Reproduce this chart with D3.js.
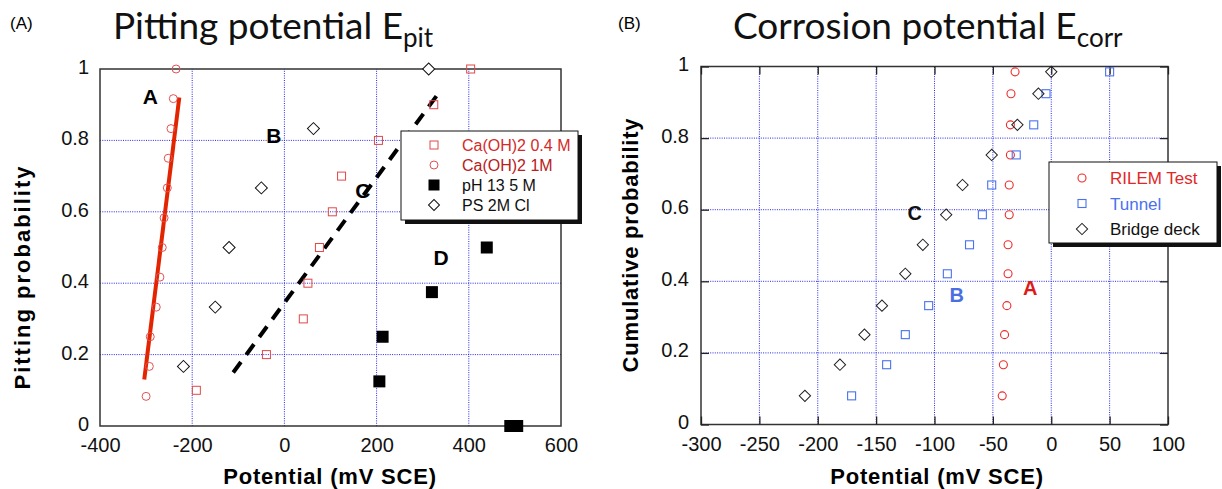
<!DOCTYPE html>
<html>
<head>
<meta charset="utf-8">
<script src="https://cdn.jsdelivr.net/npm/d3@7"></script>
<style>
  body { margin: 0; background: #fff; }
  svg text { font-family: "Liberation Sans", Arial, sans-serif; }
  .title { font-family: Lato, "Open Sans", sans-serif; }
  .grid { stroke: #2626ea; stroke-width: 1; stroke-dasharray: 1,1.3; }
  .frame { fill: none; stroke: #333; stroke-width: 1.5; }
  .axisLabel { font-weight: bold; }
</style>
</head>
<body>
<div id="chart"></div>
<script>
// ---- panel A: pitting potential (mV SCE) vs probability
var ca04E = [-191, -39, 41, 51, 76, 104, 124, 204, 324, 404];
var ca04P = [0.1, 0.2, 0.3, 0.4, 0.5, 0.6, 0.7, 0.8, 0.9, 1.0];
var ca1E = [-300, -293, -291, -278, -270, -265, -261, -254, -252, -246, -241, -235];
var ca1P = [0.083, 0.167, 0.25, 0.333, 0.417, 0.5, 0.583, 0.667, 0.75, 0.833, 0.917, 1.0];
var ph13E = [490, 505, 206, 213, 320, 439];
var ph13P = [0, 0, 0.125, 0.25, 0.375, 0.5];
var psE = [-219, -150, -120, -50, 63, 313];
var psP = [0.167, 0.333, 0.5, 0.667, 0.833, 1.0];
var fitA = [[-304, 0.13], [-228, 0.92]];
var fitC = [[-111, 0.15], [341, 0.944]];
var labelsA = [["A", -291, 0.924], ["B", -23, 0.815], ["C", 170, 0.661], ["D", 340, 0.473]];
var xTicksA = [-400, -200, 0, 200, 400, 600];
var gridXA = [-200, 0, 200, 400];

// ---- panel B: corrosion potential (mV SCE) vs cumulative probability
var cumP = [0.08, 0.167, 0.251, 0.332, 0.421, 0.502, 0.586, 0.669, 0.753, 0.837, 0.924, 0.985];
var rilemE = [-42, -41, -40, -38, -37, -37, -36, -36, -35, -35, -34.5, -31];
var tunnelE = [-171, -141, -125, -105, -89, -70, -59, -51, -30, -15, -4.5, 50];
var bridgeE = [-211, -181, -160, -145, -125, -110, -90, -76, -51, -29, -11, 0];
var labelsB = [["C", -117, 0.591, "#111"], ["B", -81, 0.362, "#4a6fe3"], ["A", -18, 0.381, "#dd1a1a"]];
var xTicksB = [-300, -250, -200, -150, -100, -50, 0, 50, 100];
var gridXB = [-250, -200, -150, -100, -50, 0, 50];

var yTicks = [0, 0.2, 0.4, 0.6, 0.8, 1];
var gridY = [0.2, 0.4, 0.6, 0.8];

var width = 1222, height = 489;

var svg = d3.select("#chart")
  .append("svg")
  .attr("width", width)
  .attr("height", height);

var diamond = d3.symbol().type(d3.symbolSquare);
var plain = function(d) { return String(d); };  // hyphen minus, like the original

function pairs(xs, ys) {
  return xs.map(function(x, i) { return [x, ys[i]]; });
}

function styleAxis(g, size) {
  g.attr("font-size", size).attr("font-family", null);
  g.select(".domain").remove();
  g.selectAll("text").attr("fill", "#111");
}

// =================== panel A ===================
var xA = d3.scaleLinear().domain([-400, 600]).range([100, 561]);
var yA = d3.scaleLinear().domain([0, 1]).range([426, 69]);

var gA = svg.append("g");

gA.selectAll(".gx").data(gridXA).enter().append("line")
  .attr("class", "grid")
  .attr("x1", function(d) { return xA(d); })
  .attr("x2", function(d) { return xA(d); })
  .attr("y1", yA(0)).attr("y2", yA(1));

gA.selectAll(".gy").data(gridY).enter().append("line")
  .attr("class", "grid")
  .attr("y1", function(d) { return yA(d); })
  .attr("y2", function(d) { return yA(d); })
  .attr("x1", xA(-400)).attr("x2", xA(600));

gA.append("rect")
  .attr("class", "frame")
  .attr("x", xA(-400)).attr("y", yA(1))
  .attr("width", xA(600) - xA(-400))
  .attr("height", yA(0) - yA(1));

gA.append("g")
  .attr("transform", `translate(0,${yA(0)})`)
  .call(d3.axisBottom(xA).tickValues(xTicksA).tickSize(0).tickPadding(12).tickFormat(plain))
  .call(styleAxis, 20);

gA.append("g")
  .attr("transform", `translate(${xA(-400)},0)`)
  .call(d3.axisLeft(yA).tickValues(yTicks).tickSize(0).tickPadding(11).tickFormat(plain))
  .call(styleAxis, 20)
  .selectAll("text").attr("dy", "0.22em");

var line = d3.line()
  .x(function(d) { return xA(d[0]); })
  .y(function(d) { return yA(d[1]); });

gA.append("path")
  .datum(fitA)
  .attr("d", line)
  .attr("fill", "none")
  .attr("stroke", "#e32400")
  .attr("stroke-width", 4);

gA.append("path")
  .datum(fitC)
  .attr("d", line)
  .attr("fill", "none")
  .attr("stroke", "#000")
  .attr("stroke-width", 4)
  .attr("stroke-dasharray", "13,9");

gA.selectAll(".ca1").data(pairs(ca1E, ca1P)).enter().append("circle")
  .attr("cx", function(d) { return xA(d[0]); })
  .attr("cy", function(d) { return yA(d[1]); })
  .attr("r", 4)
  .attr("fill", "none")
  .attr("stroke", "#e25252")
  .attr("stroke-width", 1);

gA.selectAll(".ca04").data(pairs(ca04E, ca04P)).enter().append("rect")
  .attr("x", function(d) { return xA(d[0]) - 4; })
  .attr("y", function(d) { return yA(d[1]) - 4; })
  .attr("width", 8).attr("height", 8)
  .attr("fill", "none")
  .attr("stroke", "#e24848")
  .attr("stroke-width", 1);

gA.selectAll(".ph13").data(pairs(ph13E, ph13P)).enter().append("rect")
  .attr("x", function(d) { return xA(d[0]) - 6; })
  .attr("y", function(d) { return yA(d[1]) - 6; })
  .attr("width", 12).attr("height", 12)
  .attr("fill", "#000");

gA.selectAll(".ps").data(pairs(psE, psP)).enter().append("path")
  .attr("d", diamond.size(72))
  .attr("transform", function(d) { return `translate(${xA(d[0])},${yA(d[1])}) rotate(45)`; })
  .attr("fill", "#fff")
  .attr("stroke", "#111")
  .attr("stroke-width", 1);

gA.selectAll(".lab").data(labelsA).enter().append("text")
  .attr("x", function(d) { return xA(d[1]); })
  .attr("y", function(d) { return yA(d[2]); })
  .attr("dy", "0.36em")
  .attr("text-anchor", "middle")
  .attr("font-size", 21)
  .attr("font-weight", "bold")
  .text(function(d) { return d[0]; });

// legend A
var legA = gA.append("g").attr("transform", "translate(401,131)");
legA.append("rect").attr("x", 4).attr("y", 4).attr("width", 177).attr("height", 89).attr("fill", "#111");
legA.append("rect").attr("width", 177).attr("height", 89).attr("fill", "#fff").attr("stroke", "#111").attr("stroke-width", 1);
var legItemsA = ["Ca(OH)2 0.4 M", "Ca(OH)2 1M", "pH 13 5 M", "PS 2M Cl"];
var legColA = ["#d42a2a", "#b82020", "#111", "#111"];
legItemsA.forEach(function(name, i) {
  var y = 14 + i * 20;
  var s = legA.append("g").attr("transform", `translate(33,${y})`);
  if (i == 0) s.append("rect").attr("x", -4).attr("y", -4).attr("width", 8).attr("height", 8).attr("fill", "none").attr("stroke", "#e24848");
  if (i == 1) s.append("circle").attr("r", 4).attr("fill", "none").attr("stroke", "#e25252");
  if (i == 2) s.append("rect").attr("x", -5.5).attr("y", -5.5).attr("width", 11).attr("height", 11).attr("fill", "#000");
  if (i == 3) s.append("path").attr("d", diamond.size(60)).attr("transform", "rotate(45)").attr("fill", "none").attr("stroke", "#111");
  legA.append("text")
    .attr("x", 61).attr("y", y).attr("dy", "0.36em")
    .attr("font-size", 16)
    .attr("fill", legColA[i])
    .text(name);
});

gA.append("text").attr("x", 10).attr("y", 29).attr("font-size", 17).text("(A)");

var tA = gA.append("text").attr("class", "title").attr("x", 113).attr("y", 39).attr("font-size", 37).attr("fill", "#111");
tA.append("tspan").text("Pitting potential E");
tA.append("tspan").attr("font-size", 26).attr("dy", 8).text("pit");

gA.append("text")
  .attr("class", "axisLabel")
  .attr("x", 330).attr("y", 484)
  .attr("text-anchor", "middle")
  .attr("font-size", 22)
  .attr("letter-spacing", 0.8)
  .text("Potential (mV SCE)");

gA.append("text")
  .attr("class", "axisLabel")
  .attr("transform", "translate(30,277) rotate(-90)")
  .attr("text-anchor", "middle")
  .attr("font-size", 22)
  .attr("letter-spacing", 2)
  .text("Pitting probability");

// =================== panel B ===================
var xB = d3.scaleLinear().domain([-300, 100]).range([701, 1168]);
var yB = d3.scaleLinear().domain([0, 1]).range([424.5, 66.5]);

var gB = svg.append("g");

gB.selectAll(".gx").data(gridXB).enter().append("line")
  .attr("class", "grid")
  .attr("x1", function(d) { return xB(d); })
  .attr("x2", function(d) { return xB(d); })
  .attr("y1", yB(0)).attr("y2", yB(1));

gB.selectAll(".gy").data(gridY).enter().append("line")
  .attr("class", "grid")
  .attr("y1", function(d) { return yB(d); })
  .attr("y2", function(d) { return yB(d); })
  .attr("x1", xB(-300)).attr("x2", xB(100));

gB.append("rect")
  .attr("class", "frame")
  .attr("x", xB(-300)).attr("y", yB(1))
  .attr("width", xB(100) - xB(-300))
  .attr("height", yB(0) - yB(1));

gB.append("g")
  .attr("transform", `translate(0,${yB(0)})`)
  .call(d3.axisBottom(xB).tickValues(xTicksB).tickSizeInner(-8).tickSizeOuter(0).tickPadding(12).tickFormat(plain))
  .call(styleAxis, 20);

gB.append("g")
  .attr("transform", `translate(0,${yB(1)})`)
  .call(d3.axisTop(xB).tickValues(xTicksB).tickSizeInner(-8).tickSizeOuter(0).tickFormat(""))
  .call(styleAxis, 20);

gB.append("g")
  .attr("transform", `translate(${xB(-300)},0)`)
  .call(d3.axisLeft(yB).tickValues(yTicks).tickSizeInner(-8).tickSizeOuter(0).tickPadding(12).tickFormat(plain))
  .call(styleAxis, 20)
  .selectAll("text").attr("dy", "0.2em");

gB.append("g")
  .attr("transform", `translate(${xB(100)},0)`)
  .call(d3.axisRight(yB).tickValues(yTicks).tickSizeInner(-8).tickSizeOuter(0).tickFormat(""))
  .call(styleAxis, 20);

gB.selectAll("g.tick line").attr("stroke", "#222").attr("stroke-width", 1.3);

gB.selectAll(".rilem").data(pairs(rilemE, cumP)).enter().append("circle")
  .attr("cx", function(d) { return xB(d[0]); })
  .attr("cy", function(d) { return yB(d[1]); })
  .attr("r", 4)
  .attr("fill", "none")
  .attr("stroke", "#ee2a2a")
  .attr("stroke-width", 1.1);

gB.selectAll(".tunnel").data(pairs(tunnelE, cumP)).enter().append("rect")
  .attr("x", function(d) { return xB(d[0]) - 4; })
  .attr("y", function(d) { return yB(d[1]) - 4; })
  .attr("width", 8).attr("height", 8)
  .attr("fill", "none")
  .attr("stroke", "#4a72ee")
  .attr("stroke-width", 1.1);

gB.selectAll(".bridge").data(pairs(bridgeE, cumP)).enter().append("path")
  .attr("d", diamond.size(64))
  .attr("transform", function(d) { return `translate(${xB(d[0])},${yB(d[1])}) rotate(45)`; })
  .attr("fill", "none")
  .attr("stroke", "#222")
  .attr("stroke-width", 1);

gB.selectAll(".lab").data(labelsB).enter().append("text")
  .attr("x", function(d) { return xB(d[1]); })
  .attr("y", function(d) { return yB(d[2]); })
  .attr("dy", "0.36em")
  .attr("text-anchor", "middle")
  .attr("font-size", 20)
  .attr("font-weight", "bold")
  .attr("fill", function(d) { return d[3]; })
  .text(function(d) { return d[0]; });

// legend B
var legB = gB.append("g").attr("transform", "translate(1049,162)");
legB.append("rect").attr("x", 4).attr("y", 4).attr("width", 168).attr("height", 81).attr("fill", "#111");
legB.append("rect").attr("width", 168).attr("height", 81).attr("fill", "#fff").attr("stroke", "#111").attr("stroke-width", 1);
var legItemsB = ["RILEM Test", "Tunnel", "Bridge deck"];
var legColB = ["#e02828", "#4a72ee", "#111"];
legItemsB.forEach(function(name, i) {
  var y = 16 + i * 25.5;
  var s = legB.append("g").attr("transform", `translate(33,${y})`);
  if (i == 0) s.append("circle").attr("r", 4).attr("fill", "none").attr("stroke", "#ee2a2a").attr("stroke-width", 1.1);
  if (i == 1) s.append("rect").attr("x", -4).attr("y", -4).attr("width", 8).attr("height", 8).attr("fill", "none").attr("stroke", "#4a72ee").attr("stroke-width", 1.1);
  if (i == 2) s.append("path").attr("d", diamond.size(64)).attr("transform", "rotate(45)").attr("fill", "none").attr("stroke", "#222");
  legB.append("text")
    .attr("x", 61).attr("y", y).attr("dy", "0.36em")
    .attr("font-size", 17)
    .attr("fill", legColB[i])
    .text(name);
});

gB.append("text").attr("x", 618).attr("y", 29).attr("font-size", 17).text("(B)");

var tB = gB.append("text").attr("class", "title").attr("x", 733).attr("y", 39).attr("font-size", 37).attr("fill", "#111");
tB.append("tspan").text("Corrosion potential E");
tB.append("tspan").attr("font-size", 26).attr("dy", 8).text("corr");

gB.append("text")
  .attr("class", "axisLabel")
  .attr("x", 937).attr("y", 484)
  .attr("text-anchor", "middle")
  .attr("font-size", 22)
  .attr("letter-spacing", 0.8)
  .text("Potential (mV SCE)");

gB.append("text")
  .attr("class", "axisLabel")
  .attr("transform", "translate(638,245) rotate(-90)")
  .attr("text-anchor", "middle")
  .attr("font-size", 22)
  .attr("letter-spacing", 0.8)
  .text("Cumulative probability");
</script>
</body>
</html>
